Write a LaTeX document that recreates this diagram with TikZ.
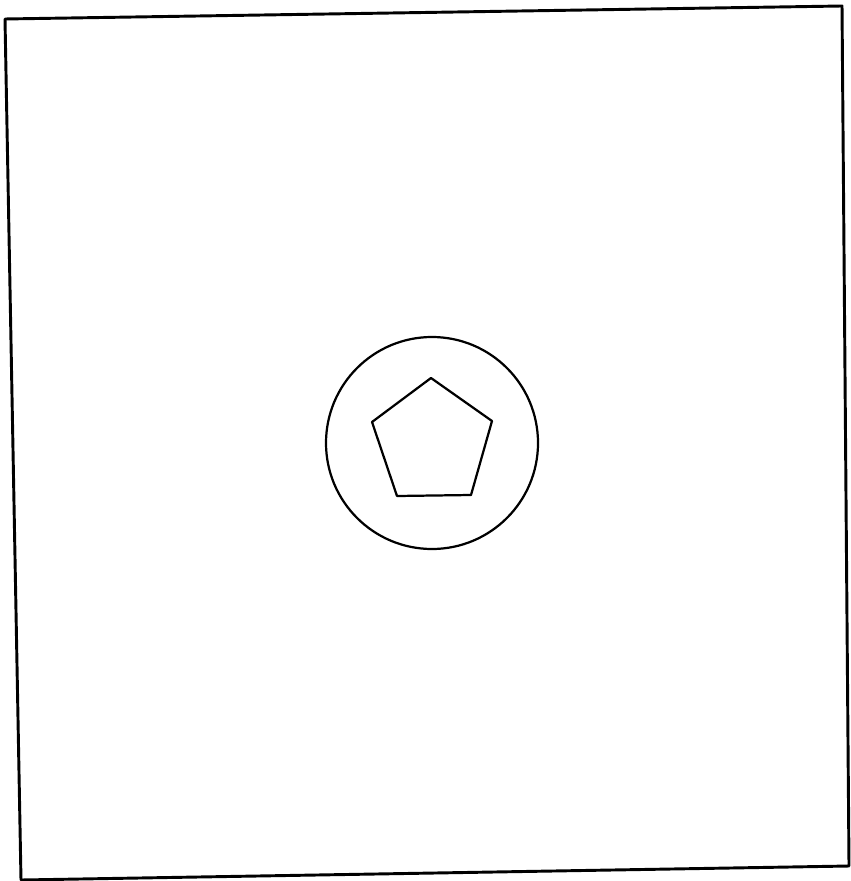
\documentclass[tikz,border=0pt]{standalone}
\usetikzlibrary{calc}

\tikzset{
  outline/.style={line width=2.5pt, line join=round, line cap=round},
  hole/.style={line width=1.9pt, line join=round}
}

\begin{document}
\begin{tikzpicture}[x=0.03cm, y=-0.03cm]
        \useasboundingbox (0,0) rectangle (850,881);
        % outer plate
        \coordinate (tl) at (5,19);
        \coordinate (tr) at (842,6);
        \coordinate (br) at (849,866);
        \coordinate (bl) at (21,880);
        \draw[outline] (tl) -- (tr) -- (br) -- (bl) -- cycle;
        % boss and pentagonal socket
        \coordinate (ctr) at (432,443);
        \draw[hole] (ctr) circle (106);
        \draw[hole] (431,378) -- (492,421) -- (471,495) -- (397,496) -- (372,422) -- cycle;
      \end{tikzpicture}
\end{document}
